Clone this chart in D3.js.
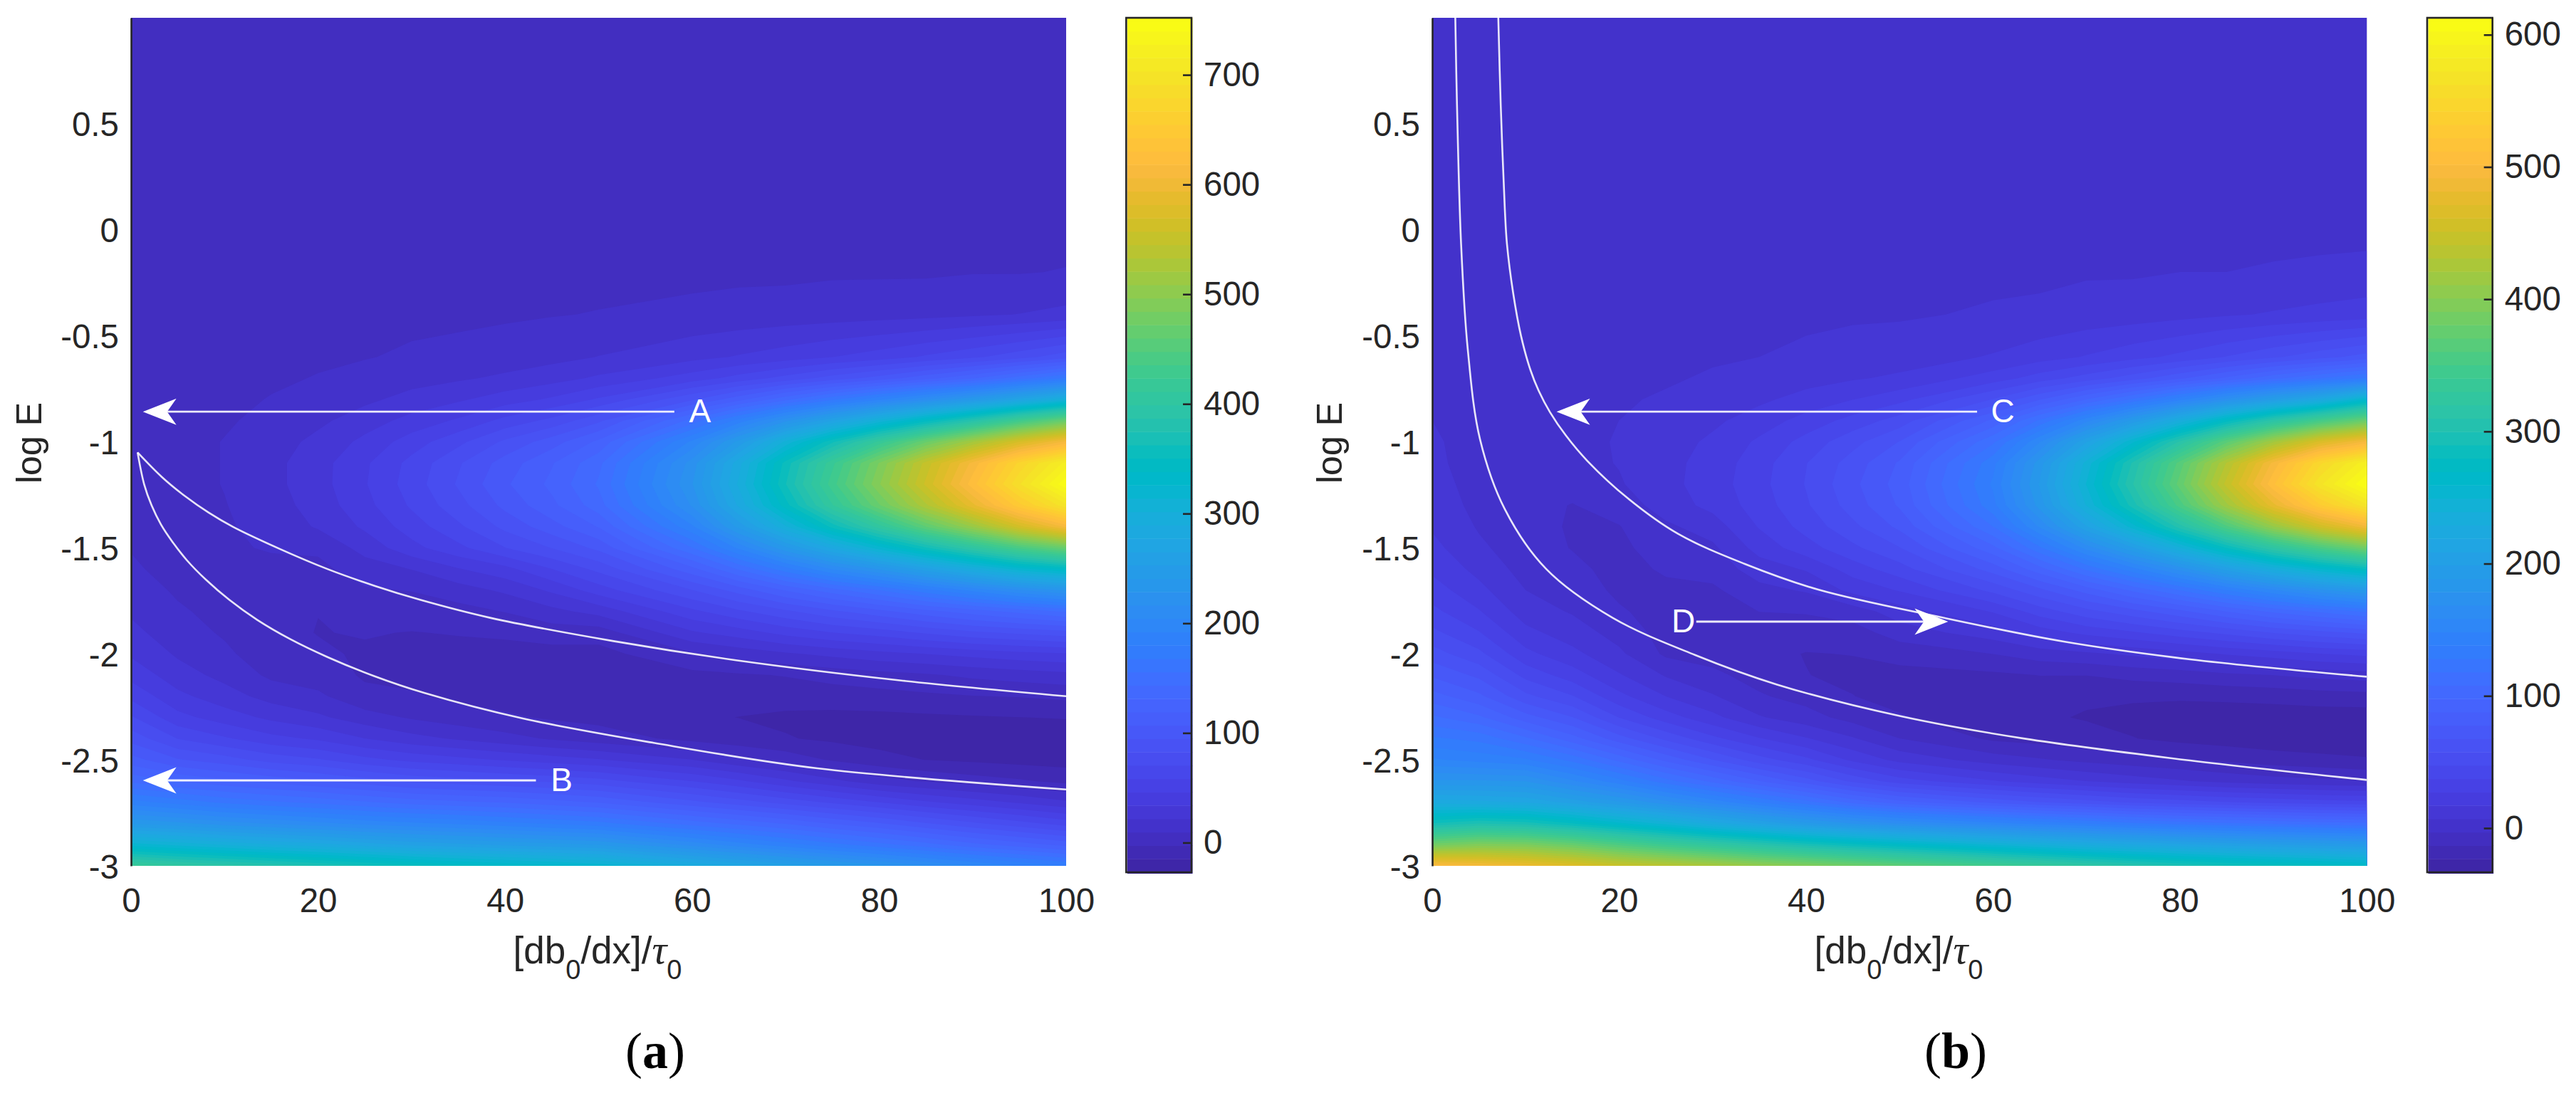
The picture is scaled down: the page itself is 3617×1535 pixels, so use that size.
<!DOCTYPE html>
<html><head><meta charset="utf-8">
<script src="https://cdn.jsdelivr.net/npm/d3@7"></script>
<style>html,body{margin:0;background:#fff}svg{display:block}text{font-family:"Liberation Sans",Arial,sans-serif;fill:#262626}</style>
</head><body><div id="c"></div>
<script>
const xGrid=[0,5,10,15,20,25,30,35,40,45,50,60,65,70,75,80,85,90,95,100];
const eGrid=[1,.5,0,-.2,-.4,-.6,-.7,-.8,-.9,-1,-1.1,-1.2,-1.3,-1.4,-1.5,-1.6,-1.7,-1.8,-1.9,-2,-2.1,-2.2,-2.3,-2.4,-2.5,-2.6,-2.7,-2.8,-2.9,-3];
// one list per xGrid column, top row first
const fieldA=[
[5,5,5,5,5,5,5,5,5,5,5,6,6,7,9,11,15,20,25,32,42,55,72,90,112,140,185,240,320,420],
[5,5,5,5,5,5,5,5,5,5,5,5,5,5,5,6,8,11,15,20,27,37,50,70,96,130,175,232,310,405],
[5,5,5,5,5,5,6,7,8,10,10,10,9,8,7,5,5,6,8,12,18,27,40,60,88,122,165,222,300,395],
[5,5,5,5,5,6,8,10,13,16,18,18,16,14,11,5,3,1,.5,2,7,17,31,50,78,115,158,215,290,385],
[5,5,5,5,6,8,10,14,19,25,29,29,27,23,12,6,1,-2.5,-3,-1,3,12,24,44,72,108,152,208,282,375],
[5,5,5,5,6,9,13,19,28,37,44,45,42,36,26,16,8,2,-2,-4,-4,0,15,34,62,100,145,200,272,365],
[5,5,5,5,7,11,17,26,38,52,62,64,60,52,42,22,10,2,-3,-5,-5.5,-1.5,8,26,55,92,138,195,262,355],
[5,5,5,5,7,13,20,32,48,67,81,84,78,68,55,33,16,5,-2,-6,-7,-5,3,20,50,88,134,190,256,345],
[5,5,5,5,8,15,24,40,62,85,100,105,98,86,70,42,24,10,-1,-6,-8,-7,-1,14,45,84,130,184,250,338],
[5,5,5,5,9,18,29,48,74,101,118,122,116,102,83,58,36,18,3,-7,-10,-9,-4,8,40,80,124,178,245,330],
[5,5,5,6,10,22,36,60,92,122,140,145,138,120,98,74,52,26,3,-7,-11,-11,-6,3,35,75,118,172,240,322],
[5,5,5,6,13,30,52,93,148,195,222,228,218,190,155,115,82,55,32,8,-6,-11,-13,-6,22,58,98,150,212,290],
[5,5,5,7,14,35,63,115,185,245,285,292,280,245,195,145,100,68,40,14,-4,-11,-15,-10,12,48,88,140,198,275],
[5,5,5,7,15,40,75,140,225,305,355,362,345,300,238,175,120,80,50,20,-2,-10,-17,-14,5,36,78,130,185,260],
[5,5,5,8,16,46,88,165,265,360,420,430,410,355,280,205,138,92,58,25,2,-9,-18,-17,-4,25,68,118,172,245],
[5,5,5,8,17,52,100,190,305,415,485,495,470,405,320,230,155,103,64,30,5,-7,-18,-20,-10,14,58,108,160,232],
[5,5,5,8,18,60,115,215,345,470,550,560,530,460,360,260,175,115,72,34,8,-5,-17,-22,-15,8,48,96,148,218],
[5,5,6,9,20,68,130,240,385,520,610,625,590,510,400,290,195,125,80,38,12,-3,-16,-23,-17,3,40,85,135,205],
[5,5,6,9,22,78,150,270,430,570,670,690,650,565,440,320,215,135,85,42,15,-2,-15,-24,-19,-1,32,75,125,192],
[5,5,6,10,25,90,170,300,470,610,720,750,700,610,470,340,230,145,90,45,18,0,-14,-24,-20,-6,24,65,115,180]];
const fieldB=[
[3,3,3,3,3,4,5,6,7,8,9,11,13,16,20,25,32,40,50,62,76,92,110,130,150,180,225,290,385,505],
[3,3,3,3,3,3,3,4,4,4,3,3,4,6,9,14,20,28,38,50,65,80,100,125,145,180,222,300,395,495],
[3,3,3,3,3,3,3,3,3,3,2,1,0,0,1,3,7,12,20,30,44,60,82,110,140,178,218,295,392,485],
[3,3,3,3,3,3,4,4,5,5,3.5,0,-3.5,-4,-3.5,-1,2,6,12,20,32,48,68,92,125,160,205,280,378,470],
[3,3,3,3,3,4,5,6,7,7.5,7.5,6,1,-3.5,-5,-6,-5,-2,3,9,18,30,47,72,105,142,190,262,358,450],
[3,3,3,3,4,5,6,8,10,12.5,14,14,12,5,1,-2,-5,-7,-7,-5,6,17,32,55,85,122,172,245,340,438],
[3,3,3,3,4,6,8,11,15,19,21,22,20,12,5,1,-5,-8,-9,-7,-1,8,20,40,68,105,155,225,325,425],
[3,3,3,3,4,7,10,15,22,29,33,34,32,28,21,12,4,-3,-9,-11,-7,-2,8,28,52,88,138,208,310,410],
[3,3,3,3,5,9,13,21,31,41,47,48,46,41,33,18,8,-2,-10,-13.5,-13,-7,1,18,40,72,122,192,295,398],
[3,3,3,3,6,10,16,27,41,54,62,65,62,55,45,32,20,2,-8,-13,-15,-13,-7,8,25,55,105,178,282,385],
[3,3,3,4,6,12,19,34,52,68,79,82,79,70,57,43,28,12,2,-10,-16,-17,-12,-3,14,42,92,168,270,372],
[3,3,3,5,8,18,32,58,90,116,135,140,135,118,95,72,50,28,12,-3,-15,-20,-21,-15,2,28,75,152,248,348],
[3,3,3,5,9,23,42,77,120,158,184,190,183,160,126,94,65,42,22,2,-13,-20,-22,-17,-2,22,68,145,238,335],
[3,3,3,6,11,28,52,98,155,208,243,250,240,208,162,120,82,54,30,5,-13,-22,-24,-20,-6,17,62,138,228,322],
[3,3,3,6,12,34,63,120,192,258,302,310,295,255,198,145,100,64,36,9,-10,-22,-26,-23,-9,12,56,130,220,310],
[3,3,4,7,14,40,76,145,232,312,365,375,355,305,238,172,118,75,43,13,-8,-22,-28,-26,-12,8,52,124,212,300],
[3,3,4,7,16,48,90,172,275,368,432,445,418,358,280,203,138,88,50,18,-5,-21,-29,-28,-15,4,48,120,205,292],
[3,3,4,8,18,56,105,198,315,420,495,510,478,410,320,232,157,100,58,22,-3,-20,-29,-30,-18,1,45,116,200,285],
[3,3,4,9,20,64,118,222,350,465,550,570,530,455,355,258,175,110,64,27,0,-18,-29,-31,-20,-1,42,112,195,278],
[3,3,4,10,22,72,130,260,380,495,590,613,570,490,385,280,190,120,70,30,2,-17,-29,-32,-22,-3,40,110,190,270]];
const curveA1=[[.7,-1.05],[3.3,-1.166],[5.8,-1.257],[8.3,-1.334],[10.9,-1.401],[15.9,-1.505],[21,-1.6],[26.1,-1.68],[30.9,-1.745],[38.4,-1.83],[51.6,-1.94],[64.7,-2.03],[82.2,-2.125],[100,-2.2]];
const curveA2=[[.7,-1.05],[1.4,-1.2],[2.2,-1.3],[3.2,-1.39],[4.4,-1.47],[6,-1.56],[8,-1.65],[10.5,-1.745],[13.5,-1.84],[17,-1.93],[21,-2.015],[26,-2.105],[31.4,-2.185],[41.9,-2.305],[55.9,-2.42],[73.4,-2.54],[100,-2.64]];
const curveB1=[[7.07,1],[7.33,.59],[7.77,.097],[8.0,-.068],[8.66,-.298],[9.5,-.5],[10.5,-.66],[11.4,-.76],[12.6,-.86],[14.3,-.97],[16.6,-1.09],[21,-1.269],[26.3,-1.434],[33.4,-1.575],[41.3,-1.697],[54.6,-1.829],[67.8,-1.944],[81.1,-2.026],[100,-2.108]];
const curveB2=[[2.47,1],[2.65,.59],[3.09,-.068],[3.8,-.562],[5.12,-.989],[7.77,-1.318],[12.2,-1.6],[19.3,-1.83],[28.1,-2.005],[36.9,-2.145],[50.2,-2.295],[63.4,-2.4],[81.1,-2.503],[100,-2.595]];
const arrowsA=[{label:"A",x0:58.1,x1:1.27,e:-.858},{label:"B",x0:43.3,x1:1.27,e:-2.597}];
const arrowsB=[{label:"C",x0:58.3,x1:13.3,e:-.858},{label:"D",x0:28.25,x1:55.2,e:-1.848}];
const xTicks=[0,20,40,60,80,100];
const yTicks=[.5,0,-.5,-1,-1.5,-2,-2.5,-3];
const cbTicksA=[0,100,200,300,400,500,600,700];
const cbTicksB=[0,100,200,300,400,500,600];
const parula=[[.2422,.1504,.6603],[.2504,.165,.7076],[.2578,.1818,.7511],[.2647,.1978,.7952],[.2706,.2147,.8364],[.2751,.2342,.871],[.2783,.2559,.8991],[.2803,.2782,.9221],[.2813,.3006,.9414],[.281,.3228,.9579],[.2795,.3447,.9717],[.276,.3667,.9829],[.2699,.3892,.9906],[.2602,.4123,.9952],[.244,.4358,.9988],[.2206,.4603,.9973],[.1963,.4847,.9892],[.1834,.5074,.9798],[.1786,.5289,.9682],[.1764,.5499,.952],[.1687,.5703,.9359],[.154,.5902,.9218],[.146,.6091,.9079],[.138,.6276,.8973],[.1248,.6459,.8883],[.1113,.6635,.8763],[.0952,.6798,.8598],[.0689,.6948,.8394],[.0297,.7082,.8163],[.0036,.7203,.7917],[.0067,.7312,.766],[.0433,.7411,.7394],[.0964,.75,.712],[.1408,.7584,.6842],[.1717,.767,.6554],[.1938,.7758,.6251],[.2161,.7843,.5923],[.247,.7918,.5567],[.2906,.7973,.5188],[.3406,.8008,.4789],[.3909,.8029,.4354],[.4456,.8024,.3909],[.5044,.7993,.348],[.5616,.7942,.3045],[.6174,.7876,.2612],[.672,.7793,.2227],[.7242,.7698,.191],[.7738,.7598,.1646],[.8203,.7498,.1535],[.8634,.7406,.1596],[.9035,.733,.1774],[.9393,.7288,.21],[.9728,.7298,.2394],[.9956,.7434,.2371],[.997,.7659,.2199],[.9952,.7893,.2028],[.9892,.8136,.1885],[.9786,.8386,.1766],[.9676,.8639,.1643],[.961,.889,.1537],[.9597,.9135,.1423],[.9628,.9373,.1265],[.9691,.9606,.1064],[.9769,.9839,.0805]];
const palette=parula.map(c=>d3.rgb(c[0]*255,c[1]*255,c[2]*255).formatHex());

const svg=d3.select("#c").append("svg").attr("width",3617).attr("height",1535);
const TOP=25,BOT=1216,INK="#262626";

function panel(o){
  const x=d3.scaleLinear().domain([0,100]).range([o.left,o.right]);
  const y=d3.scaleLinear().domain([1,-3]).range([TOP,BOT]);
  const g=svg.append("g");
  const clipId="clip"+o.name;
  g.append("clipPath").attr("id",clipId).append("rect").attr("x",o.left).attr("y",TOP).attr("width",o.right-o.left).attr("height",BOT-TOP);
  const plot=g.append("g").attr("clip-path",`url(#${clipId})`);
  const nc=xGrid.length,nr=eGrid.length,vals=new Array(nc*nr);
  o.field.forEach((col,i)=>col.forEach((v,j)=>{vals[i+j*nc]=v;}));
  const step=(o.cbMax-o.cbMin)/palette.length;
  const cols=d3.scaleLinear().domain(d3.range(nc)).range(xGrid).clamp(true);
  const rows=d3.scaleLinear().domain(d3.range(nr)).range(eGrid).clamp(true);
  const path=d3.geoPath(d3.geoTransform({point(px,py){this.stream.point(x(cols(px-.5)),y(rows(py-.5)));}}));
  plot.append("rect").attr("x",o.left).attr("y",TOP).attr("width",o.right-o.left).attr("height",BOT-TOP).attr("fill",palette[0]);
  const levels=palette.map((c,k)=>o.cbMin+k*step).slice(1);
  const contours=d3.contours().size([nc,nr]).thresholds(levels)(vals);
  plot.selectAll("path.band").data(contours).join("path").attr("class","band")
    .attr("d",path).attr("fill",(d,k)=>palette[k+1]);
  const line=d3.line().x(d=>x(d[0])).y(d=>y(d[1])).curve(d3.curveCatmullRom.alpha(.5));
  plot.selectAll("path.cv").data(o.curves).join("path").attr("class","cv")
    .attr("d",line).attr("fill","none").attr("stroke","#fff").attr("stroke-width",2.6).attr("stroke-opacity",.88);
  o.arrows.forEach(a=>{
    const px0=x(a.x0),px1=x(a.x1),py=y(a.e),dir=Math.sign(px0-px1);
    g.append("line").attr("x1",px0).attr("x2",px1+dir*30).attr("y1",py).attr("y2",py).attr("stroke","#fff").attr("stroke-width",2.8).attr("stroke-opacity",.9);
    g.append("path").attr("d",d3.line()([[px1,py],[px1+dir*47,py-18.5],[px1+dir*34,py],[px1+dir*47,py+18.5]])+"Z").attr("fill","#fff");
    g.append("text").attr("x",px0+(dir>0?36:-18)).attr("y",py+3).attr("text-anchor","middle").attr("dominant-baseline","middle")
      .style("fill","#fff").style("font-size","46px").text(a.label);
  });
  const ax=g.append("g").attr("transform",`translate(${o.left},0)`).call(d3.axisLeft(y).tickValues(yTicks).tickSize(0).tickPadding(17).tickFormat(d=>String(d)));
  ax.select(".domain").attr("stroke",INK).attr("stroke-width",2.6);
  ax.selectAll("text").attr("dy",".36em").style("font-size","47.5px").style("font-family",'"Liberation Sans"').style("fill",INK);
  const bx=g.append("g").attr("transform",`translate(0,${BOT})`).call(d3.axisBottom(x).tickValues(xTicks).tickSize(0).tickPadding(31));
  bx.select(".domain").remove();
  bx.selectAll("text").style("font-size","47.5px").style("font-family",'"Liberation Sans"').style("fill",INK);
  const tx=g.append("text").attr("x",o.xLabelX).attr("y",1353).attr("text-anchor","middle").style("font-size","53px");
  tx.append("tspan").text("[db");
  tx.append("tspan").attr("dy",22).style("font-size","38px").text("0");
  tx.append("tspan").attr("dy",-22).text("/dx]/");
  tx.append("tspan").style("font-family",'"Liberation Serif"').style("font-style","italic").style("font-size","58px").text("τ");
  tx.append("tspan").attr("dy",22).style("font-size","38px").text("0");
  g.append("text").attr("transform",`translate(${o.yLabelX},622) rotate(-90)`).attr("text-anchor","middle").style("font-size","50px").text("log E");
  const cap=g.append("text").attr("x",o.capX).attr("y",1500).attr("text-anchor","middle").style("font-family",'"Liberation Serif"').style("font-size","72px").style("fill","#000");
  cap.append("tspan").text("(");
  cap.append("tspan").style("font-weight","bold").text(o.name);
  cap.append("tspan").text(")");
  const cb=d3.scaleLinear().domain([o.cbMin,o.cbMax]).range([1225,TOP]);
  g.selectAll("rect.cb").data(palette).join("rect").attr("class","cb")
    .attr("x",o.cbL+1.5).attr("width",o.cbR-o.cbL)
    .attr("y",(d,k)=>cb(o.cbMin+(k+1)*step)).attr("height",(d,k)=>cb(o.cbMin+k*step)-cb(o.cbMin+(k+1)*step)+(k===0?2:.5)).attr("fill",d=>d);
  g.append("rect").attr("x",o.cbL).attr("y",TOP).attr("width",o.cbR-o.cbL).attr("height",1225-TOP).attr("fill","none").attr("stroke",INK).attr("stroke-width",2.6);
  const cax=g.append("g").attr("transform",`translate(${o.cbR},0)`).call(d3.axisRight(cb).tickValues(o.cbTicks).tickSize(0).tickPadding(17));
  cax.select(".domain").remove();
  cax.selectAll("line").attr("x1",-12).attr("x2",0).attr("stroke",INK).attr("stroke-width",2.6);
  cax.selectAll("text").style("font-size","47.5px").style("font-family",'"Liberation Sans"').style("fill",INK);
}
panel({name:"a",left:184,right:1497,field:fieldA,curves:[curveA1,curveA2],arrows:arrowsA,cbMin:-27,cbMax:752,cbL:1581.3,cbR:1673,cbTicks:cbTicksA,xLabelX:839,yLabelX:58,capX:920});
panel({name:"b",left:2011,right:3323.3,field:fieldB,curves:[curveB1,curveB2],arrows:arrowsB,cbMin:-33.4,cbMax:612.8,cbL:3408,cbR:3499.7,cbTicks:cbTicksB,xLabelX:2666,yLabelX:1884,capX:2746});
</script></body></html>
